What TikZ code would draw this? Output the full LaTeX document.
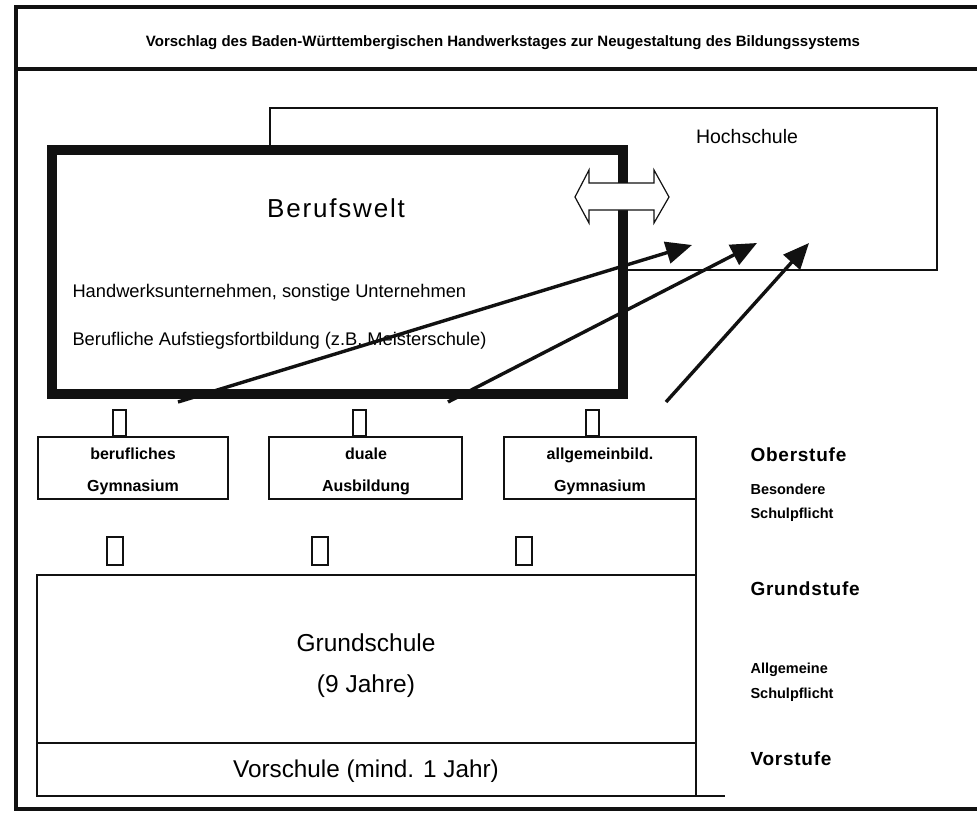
\documentclass[tikz,border=0pt]{standalone}
\usepackage{fontspec}
\usepackage{xcolor}
\usepackage{tikz}
\usetikzlibrary{arrows.meta}
\setmainfont{Liberation Sans}
\newfontfamily\stagefont{Liberation Sans}[LetterSpace=4]
\newfontfamily\worldfont{Liberation Sans}[LetterSpace=7]
\definecolor{planInk}{HTML}{111111}
\definecolor{planPaper}{HTML}{FFFFFF}

\begin{document}
\begin{tikzpicture}[x=1pt, y=-1pt,
  thinbox/.style={draw=planInk, line width=1.6pt},
  glyphbox/.style={draw=planInk, line width=1.3pt},
  riser/.style={draw=planInk, line width=3.4pt, -{Triangle[length=26pt, width=22pt]}},
  stage/.style={anchor=base west, font=\stagefont\bfseries\fontsize{19}{22}\selectfont},
  duty/.style={anchor=base west, font=\bfseries\fontsize{14.5}{17}\selectfont},
  plain/.style={anchor=base west, font=\fontsize{18.3}{21}\selectfont},
  school/.style={font=\bfseries\fontsize{16}{32}\selectfont, align=center}]
  \useasboundingbox (0,0) rectangle (977,816);
  \fill[planPaper] (0,0) rectangle (977,816);
  \clip (0,0) rectangle (977,816);
  % Outer frame and title strip
  \draw[planInk, line width=4.6pt] (16,7) rectangle (1000,809);
  \draw[planInk, line width=4.6pt] (16,69) -- (1000,69);
  \node[anchor=base, font=\bfseries\fontsize{15}{18}\selectfont] (title) at (503,47)
    {Vorschlag des Baden-Württembergischen Handwerkstages zur Neugestaltung des Bildungssystems};
  % Hochschule, partly hidden behind the working world
  \draw[thinbox] (270,108) rectangle (937,270);
  \node[anchor=base, font=\fontsize{19.5}{22}\selectfont] (hoch) at (747,143) {Hochschule};
  \draw[planInk, fill=planPaper, line width=10pt] (52,150) rectangle (623,394);
  \node[anchor=base, font=\worldfont\fontsize{26}{30}\selectfont] (beruf) at (336,217) {Berufswelt};
  \node[plain] (firms) at (69,297) {Handwerksunternehmen, sonstige Unternehmen};
  \node[plain] (master) at (69,345) {Berufliche Aufstiegsfortbildung (z.B. Meisterschule)};
  % Hollow double arrow on the border
  \draw[planInk, fill=planPaper, line width=1.2pt] (575,197)
    -- (589,170) -- (589,183) -- (654,183) -- (654,170) -- (669,197)
    -- (654,223) -- (654,210) -- (589,210) -- (589,223) -- cycle;
  % Upper school row
  \draw[thinbox] (38,437) rectangle (228,499);
  \draw[thinbox] (269,437) rectangle (462,499);
  \draw[thinbox] (504,437) rectangle (696,499);
  \node[school] (berGym) at (133,471) {berufliches\\Gymnasium};
  \node[school] (duale) at (366,471) {duale\\Ausbildung};
  \node[school] (allGym) at (600,471) {allgemeinbild.\\Gymnasium};
  % Missing-glyph boxes
  \draw[glyphbox] (113,410) rectangle (126,436);
  \draw[glyphbox] (353,410) rectangle (366,436);
  \draw[glyphbox] (586,410) rectangle (599,436);
  \draw[glyphbox] (107,537) rectangle (123,565);
  \draw[glyphbox] (312,537) rectangle (328,565);
  \draw[glyphbox] (516,537) rectangle (532,565);
  % Grundschule and Vorschule
  \draw[thinbox] (696,499) -- (696,796);
  \draw[thinbox] (37,575) rectangle (696,743);
  \draw[thinbox] (37,743) -- (37,796) -- (725,796);
  \node[anchor=base, font=\fontsize{24.5}{28}\selectfont] (grund) at (366,651) {Grundschule};
  \node[anchor=base, font=\fontsize{24.5}{28}\selectfont] (jahre) at (366,692) {(9 Jahre)};
  \node[anchor=base, font=\fontsize{24.3}{28}\selectfont] (vor) at (366,777) {Vorschule (mind. 1 Jahr)};
  % Stage labels on the right
  \node[stage] (ober) at (747,461) {Oberstufe};
  \node[duty] (bes) at (747,494) {Besondere};
  \node[duty] (pfl1) at (747,518) {Schulpflicht};
  \node[stage] (grundst) at (747,595) {Grundstufe};
  \node[duty] (allg) at (747,673) {Allgemeine};
  \node[duty] (pfl2) at (747,698) {Schulpflicht};
  \node[stage] (vorst) at (747,765) {Vorstufe};
  % Ways up to the Hochschule
  \coordinate (s1) at (178,402);
  \coordinate (s2) at (448,402);
  \coordinate (s3) at (666,402);
  \coordinate (t1) at (692,245);
  \coordinate (t2) at (757,243);
  \coordinate (t3) at (809,243);
  \draw[riser] (s1) -- (t1);
  \draw[riser] (s2) -- (t2);
  \draw[riser] (s3) -- (t3);
\end{tikzpicture}
\end{document}
